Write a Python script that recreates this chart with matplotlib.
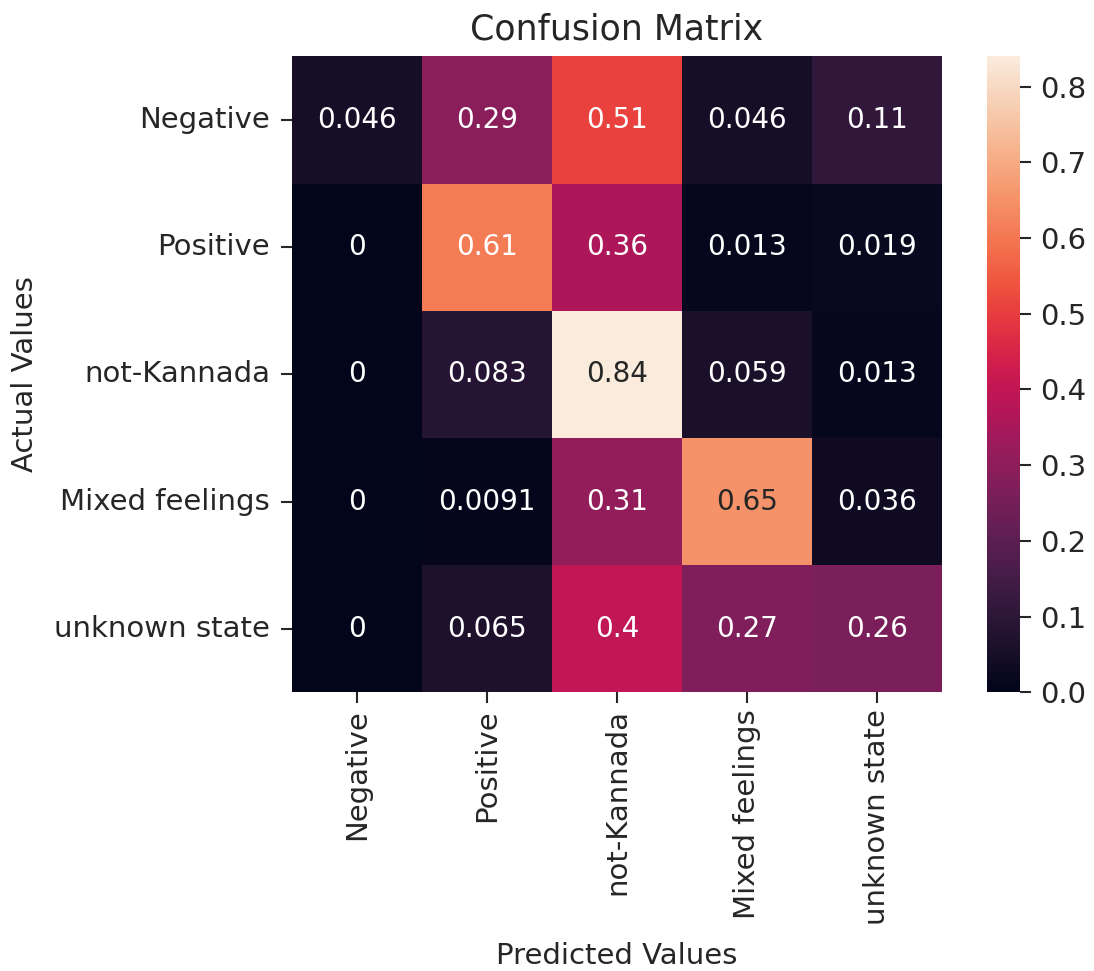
import numpy as np
import matplotlib
matplotlib.use("Agg")
import matplotlib.pyplot as plt
import seaborn as sns

labels = ["Negative", "Positive", "not-Kannada", "Mixed feelings", "unknown state"]
row_negative = [0.046, 0.29, 0.51, 0.046, 0.11]
row_positive = [0, 0.61, 0.36, 0.013, 0.019]
row_not_kannada = [0, 0.083, 0.84, 0.059, 0.013]
row_mixed = [0, 0.0091, 0.31, 0.65, 0.036]
row_unknown = [0, 0.065, 0.4, 0.27, 0.26]

cm = np.array([row_negative, row_positive, row_not_kannada, row_mixed, row_unknown])

plt.rcParams["text.color"] = "#262626"
plt.rcParams["axes.labelcolor"] = "#262626"
plt.rcParams["xtick.color"] = "#262626"
plt.rcParams["ytick.color"] = "#262626"

fig = plt.figure(figsize=(10.94, 9.71), dpi=100)
ax = fig.add_axes([0.267, 0.287, 0.594, 0.655])
cax = fig.add_axes([0.902, 0.287, 0.030, 0.655])

sns.heatmap(cm, annot=True, fmt=".2g", ax=ax, cbar_ax=cax,
            xticklabels=labels, yticklabels=labels,
            annot_kws={"fontsize": 20})

ax.set_title("Confusion Matrix", fontsize=25, pad=12)
ax.set_xlabel("Predicted Values", fontsize=21, labelpad=12)
ax.set_ylabel("Actual Values", fontsize=21, labelpad=11)
ax.tick_params(axis="both", labelsize=21, length=8, width=1.5, pad=8)
ax.tick_params(axis="x", pad=4)
plt.setp(ax.get_xticklabels(), rotation=90)
plt.setp(ax.get_yticklabels(), rotation=0)
cax.tick_params(labelsize=21, length=8, width=1.5, pad=7)

fig.savefig("out.png", dpi=100)
